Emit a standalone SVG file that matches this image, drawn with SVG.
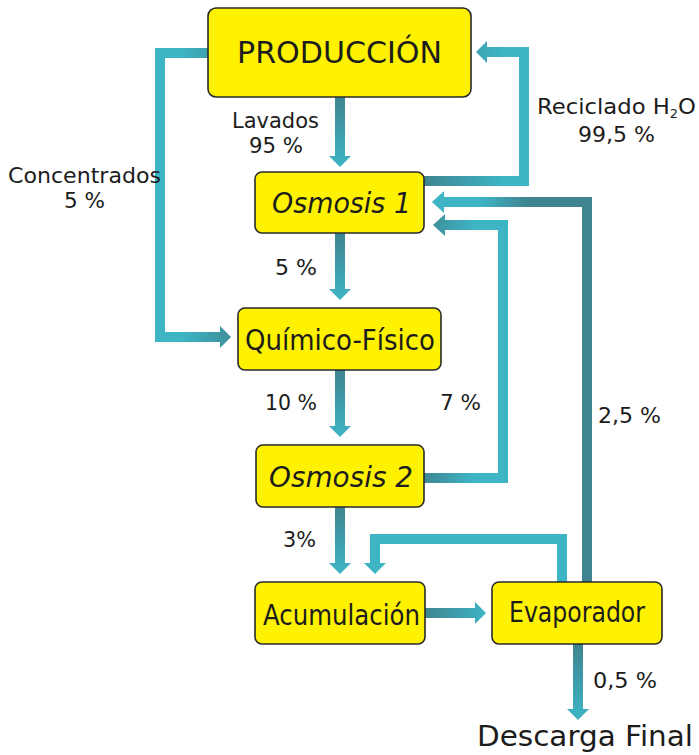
<svg xmlns="http://www.w3.org/2000/svg" width="699" height="755" viewBox="0 0 699 755">
<defs>
<style>
.box{fill:#fff200;stroke:#2a2a2a;stroke-width:1.6}
.t{font-family:"DejaVu Sans","Liberation Sans",sans-serif;fill:#1c1c1c;}
.nt{font-size:28px}
.lb{font-size:21px}
.it{font-style:italic}
.c{fill:none;stroke-width:10;stroke-linejoin:miter}
</style>
<linearGradient id="gLav" gradientUnits="userSpaceOnUse" x1="0" y1="97" x2="0" y2="167"><stop offset="0" stop-color="#3f8490"/><stop offset="1" stop-color="#3db5c5"/></linearGradient>
<linearGradient id="g5" gradientUnits="userSpaceOnUse" x1="0" y1="233" x2="0" y2="300"><stop offset="0" stop-color="#3f8490"/><stop offset="1" stop-color="#3db5c5"/></linearGradient>
<linearGradient id="g10" gradientUnits="userSpaceOnUse" x1="0" y1="370" x2="0" y2="437"><stop offset="0" stop-color="#3f8490"/><stop offset="1" stop-color="#3db5c5"/></linearGradient>
<linearGradient id="g3" gradientUnits="userSpaceOnUse" x1="0" y1="507" x2="0" y2="574"><stop offset="0" stop-color="#3f8490"/><stop offset="1" stop-color="#3db5c5"/></linearGradient>
<linearGradient id="gEv" gradientUnits="userSpaceOnUse" x1="0" y1="644" x2="0" y2="720"><stop offset="0" stop-color="#3f8490"/><stop offset="1" stop-color="#3db5c5"/></linearGradient>
<linearGradient id="gCon" gradientUnits="userSpaceOnUse" x1="160" y1="0" x2="232" y2="0"><stop offset="0.3" stop-color="#3db5c5"/><stop offset="1" stop-color="#3f8e9a"/></linearGradient>
<linearGradient id="gRec" gradientUnits="userSpaceOnUse" x1="424" y1="0" x2="529" y2="0"><stop offset="0" stop-color="#3f8490"/><stop offset="0.75" stop-color="#3db5c5"/></linearGradient>
<linearGradient id="g25" gradientUnits="userSpaceOnUse" x1="432" y1="0" x2="592" y2="0"><stop offset="0.3" stop-color="#3db5c5"/><stop offset="0.6" stop-color="#3f8490"/></linearGradient>
<linearGradient id="g7" gradientUnits="userSpaceOnUse" x1="424" y1="0" x2="508" y2="0"><stop offset="0" stop-color="#3f8894"/><stop offset="0.6" stop-color="#3db5c5"/></linearGradient>
<linearGradient id="gAc" gradientUnits="userSpaceOnUse" x1="425" y1="0" x2="486" y2="0"><stop offset="0" stop-color="#3f8490"/><stop offset="1" stop-color="#3db5c5"/></linearGradient>
</defs>
<rect width="699" height="755" fill="#ffffff"/>

<g id="connectors">
<g id="c-lavados"><path class="c" stroke="url(#gLav)" d="M340,97 V157"/><polygon fill="url(#gLav)" points="329,156 351,156 340,167"/></g>
<g id="c-concentrados"><path class="c" stroke="url(#gCon)" d="M209,53 H160 V337 H221"/><polygon fill="url(#gCon)" points="220,326 220,348 231,337"/></g>
<g id="c-5"><path class="c" stroke="url(#g5)" d="M340,233 V290"/><polygon fill="url(#g5)" points="329,289 351,289 340,300"/></g>
<g id="c-10"><path class="c" stroke="url(#g10)" d="M340,370 V427"/><polygon fill="url(#g10)" points="329,426 351,426 340,437"/></g>
<g id="c-3"><path class="c" stroke="url(#g3)" d="M340,507 V564"/><polygon fill="url(#g3)" points="329,563 351,563 340,574"/></g>
<g id="c-reciclado"><path class="c" stroke="url(#gRec)" d="M424,181 H524 V52 H486"/><polygon fill="url(#gRec)" points="487,41 487,63 476,52"/></g>
<g id="c-25"><path class="c" stroke="url(#g25)" d="M587,582 V202 H443"/><polygon fill="url(#g25)" points="444,191 444,213 432,202"/></g>
<g id="c-7"><path class="c" stroke="url(#g7)" d="M424,478 H503 V225 H444"/><polygon fill="url(#g7)" points="445,214 445,236 433,225"/></g>
<g id="c-loop"><path class="c" stroke="#3db5c5" d="M562,582 V539 H375 V564"/><polygon fill="#3db5c5" points="364,563 386,563 375,574"/></g>
<g id="c-acum-evap"><path class="c" stroke="url(#gAc)" d="M425,613 H476"/><polygon fill="url(#gAc)" points="475,602 475,624 486,613"/></g>
<g id="c-descarga"><path class="c" stroke="url(#gEv)" d="M578,644 V710"/><polygon fill="url(#gEv)" points="567,709 589,709 578,720"/></g>
</g>

<g id="produccion"><rect class="box" x="208" y="8" width="263" height="89" rx="8"/><text class="t" x="237" y="63" font-size="30" textLength="205" lengthAdjust="spacingAndGlyphs">PRODUCCIÓN</text></g>
<g id="osmosis1"><rect class="box" x="255" y="172" width="169" height="61" rx="7"/><text class="t nt it" x="272" y="213" textLength="139" lengthAdjust="spacingAndGlyphs">Osmosis 1</text></g>
<g id="quimico"><rect class="box" x="238" y="308" width="203" height="62" rx="7"/><text class="t nt" x="245" y="350" textLength="190" lengthAdjust="spacingAndGlyphs">Químico-Físico</text></g>
<g id="osmosis2"><rect class="box" x="256" y="445" width="168" height="62" rx="7"/><text class="t nt it" x="269" y="487" textLength="144" lengthAdjust="spacingAndGlyphs">Osmosis 2</text></g>
<g id="acumulacion"><rect class="box" x="255" y="582" width="170" height="62" rx="7"/><text class="t nt" x="263" y="625" textLength="157" lengthAdjust="spacingAndGlyphs">Acumulación</text></g>
<g id="evaporador"><rect class="box" x="492" y="582" width="170" height="62" rx="7"/><text class="t nt" x="509" y="622" textLength="136" lengthAdjust="spacingAndGlyphs">Evaporador</text></g>

<g id="labels">
<text class="t lb" x="232" y="128" textLength="87" lengthAdjust="spacingAndGlyphs">Lavados</text>
<text class="t lb" x="249" y="153" textLength="54" lengthAdjust="spacingAndGlyphs">95 %</text>
<text class="t lb" x="8" y="183" textLength="153" lengthAdjust="spacingAndGlyphs">Concentrados</text>
<text class="t lb" x="64" y="208" textLength="41" lengthAdjust="spacingAndGlyphs">5 %</text>
<text class="t lb" x="537" y="114" textLength="159" lengthAdjust="spacingAndGlyphs">Reciclado H<tspan font-size="12" dy="4">2</tspan><tspan dy="-4">O</tspan></text>
<text class="t lb" x="578" y="142" textLength="77" lengthAdjust="spacingAndGlyphs">99,5 %</text>
<text class="t lb" x="275" y="275" textLength="42" lengthAdjust="spacingAndGlyphs">5 %</text>
<text class="t lb" x="265" y="410" textLength="52" lengthAdjust="spacingAndGlyphs">10 %</text>
<text class="t lb" x="440" y="410" textLength="41" lengthAdjust="spacingAndGlyphs">7 %</text>
<text class="t lb" x="598" y="423" textLength="63" lengthAdjust="spacingAndGlyphs">2,5 %</text>
<text class="t lb" x="283" y="547" textLength="33" lengthAdjust="spacingAndGlyphs">3%</text>
<text class="t lb" x="593" y="688" textLength="64" lengthAdjust="spacingAndGlyphs">0,5 %</text>
<text class="t" x="477" y="746" font-size="28" textLength="216" lengthAdjust="spacingAndGlyphs">Descarga Final</text>
</g>
</svg>
